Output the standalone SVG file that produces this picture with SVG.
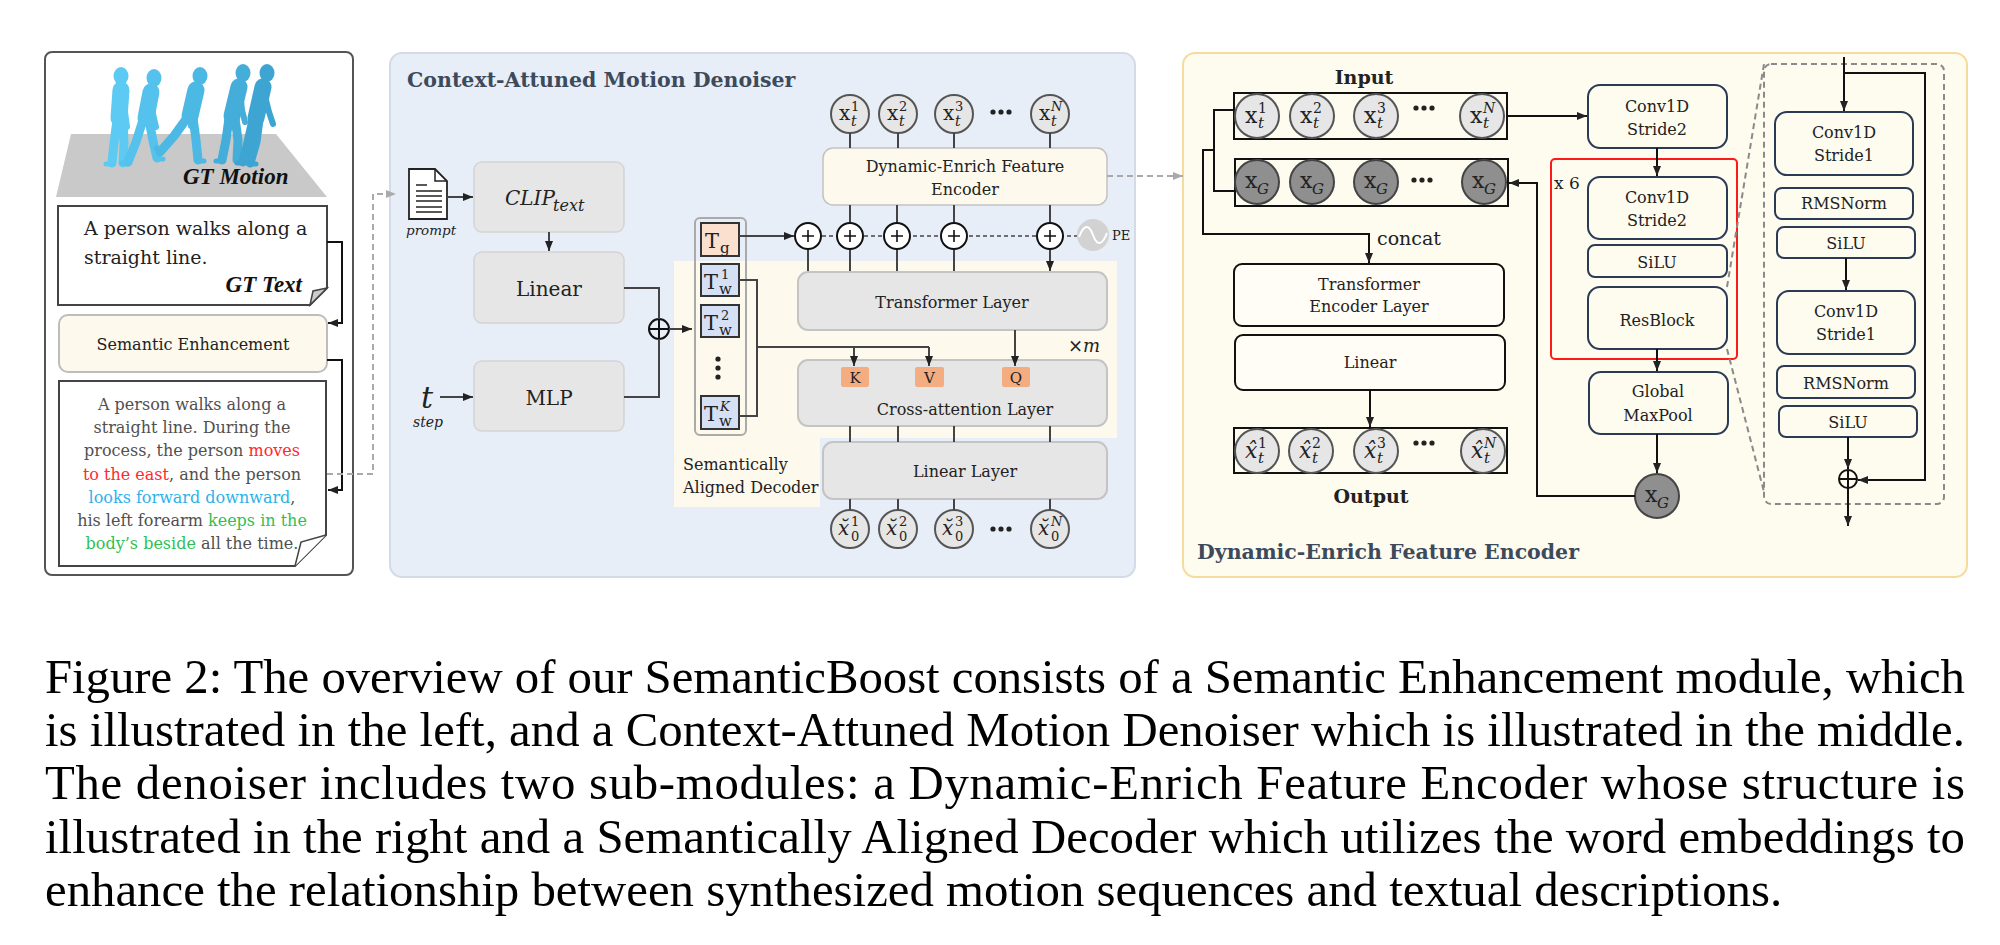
<svg xmlns="http://www.w3.org/2000/svg" width="2000" height="945" viewBox="0 0 2000 945">
<defs>
<style>
.t{font-family:"DejaVu Serif",serif;fill:#222;}
.b{font-weight:bold;}
.i{font-style:italic;}
.gt{font-family:"Liberation Serif",serif;font-weight:bold;font-style:italic;font-size:23px;fill:#111;}
.ttl{font-family:"DejaVu Serif",serif;font-weight:bold;font-size:20.5px;fill:#3d4a5c;}
.cap{font-family:"Liberation Serif",serif;font-size:48.8px;fill:#000;}
.gbox{fill:#e6e6e6;stroke:#d4d4d4;stroke-width:1.5;}
.lbox{fill:#e6e6e6;stroke:#c4c4c4;stroke-width:2;}
.cream{fill:#fdf9ec;stroke:#c2c2c2;stroke-width:1.5;}
.ln{stroke:#444;stroke-width:2;fill:none;}
.lk{stroke:#111;stroke-width:2;fill:none;}
.dsh{stroke:#aaa;stroke-width:2;fill:none;stroke-dasharray:6 4;}
.circ{fill:#e6e6e6;stroke:#555;stroke-width:2;}
.dark{fill:#8f8f8f;stroke:#444;stroke-width:2;}
.nv{fill:#fefbef;stroke:#2b3a55;stroke-width:2;}
.row{fill:none;stroke:#111;stroke-width:2;}
.tok{stroke:#333;stroke-width:2;}
.plus{fill:#fff;stroke:#111;stroke-width:2;}
.fig{fill:none;stroke-linecap:round;stroke-linejoin:round;}
</style>
<marker id="ah" viewBox="0 0 10 8" refX="10" refY="4" markerWidth="10" markerHeight="8" markerUnits="userSpaceOnUse" orient="auto"><path d="M0,0 L10,4 L0,8 z" fill="#222"/></marker>
<marker id="ahg" viewBox="0 0 10 8" refX="10" refY="4" markerWidth="10" markerHeight="8" markerUnits="userSpaceOnUse" orient="auto"><path d="M0,0 L10,4 L0,8 z" fill="#aaa"/></marker>
</defs>
<rect width="2000" height="945" fill="#fff"/>

<!-- LEFT PANEL -->
<g id="left-panel">
<rect x="45" y="52" width="308" height="523" rx="7" fill="#fff" stroke="#555" stroke-width="2"/>
<polygon points="71,134 276,134 327,197 56,197" fill="#c9c9c9"/>
</g>
<g id="gt-motion-figures">
<g class="fig" stroke="#5ccaf2">
<ellipse cx="121" cy="76" rx="7.5" ry="9" fill="#5ccaf2" stroke="none"/>
<path d="M121,90 L119,118" stroke-width="17"/>
<path d="M117,120 L114,143 L112,163 M123,120 L124,143 L123,163" stroke-width="9"/>
<path d="M112,164 H106 M124,164 H128" stroke-width="5"/>
<path d="M122,93 L125,112 L127,127" stroke-width="6"/>
</g>
<g class="fig" stroke="#54c2ec">
<ellipse cx="154" cy="78" rx="7.5" ry="9" fill="#54c2ec" stroke="none"/>
<path d="M151,92 L146,118" stroke-width="17"/>
<path d="M143,120 L136,142 L128,162 M149,120 L153,141 L157,158" stroke-width="9"/>
<path d="M128,163 H122 M157,159 H163" stroke-width="5"/>
<path d="M152,95 L153,114 L156,127" stroke-width="6"/>
</g>
<g class="fig" stroke="#4cb8e4">
<ellipse cx="200" cy="76" rx="7.5" ry="9" fill="#4cb8e4" stroke="none"/>
<path d="M196,90 L190,116" stroke-width="17"/>
<path d="M187,118 L174,136 L160,152 M193,118 L196,140 L198,160" stroke-width="9"/>
<path d="M198,161 H204 M160,152 L156,148" stroke-width="5"/>
<path d="M197,93 L193,112 L191,126" stroke-width="6"/>
</g>
<g class="fig" stroke="#44add9">
<ellipse cx="243" cy="73" rx="7.5" ry="9" fill="#44add9" stroke="none"/>
<path d="M239,87 L232,116" stroke-width="17"/>
<path d="M229,118 L226,140 L222,160 M235,118 L238,140 L237,160" stroke-width="9"/>
<path d="M222,161 H216 M237,161 H243" stroke-width="5"/>
<path d="M240,90 L242,110 L245,122" stroke-width="6"/>
</g>
<g class="fig" stroke="#3ea4d2">
<ellipse cx="267" cy="73" rx="7.5" ry="9" fill="#3ea4d2" stroke="none"/>
<path d="M263,87 L256,118" stroke-width="17"/>
<path d="M253,120 L248,142 L243,162 M259,120 L256,142 L250,163" stroke-width="9"/>
<path d="M243,163 H237 M250,164 H256" stroke-width="5"/>
<path d="M264,92 L269,112 L273,124" stroke-width="6"/>
</g>
<text class="gt" x="183" y="184">GT Motion</text>
</g>

<g id="gt-text">
<path d="M58,206 H327 V288 L310,305 H58 Z" fill="#fff" stroke="#444" stroke-width="2"/>
<path d="M310,305 L313,291 L327,288 Z" fill="#ccc" stroke="#444" stroke-width="1.5"/>
<text class="t" font-size="19" x="84" y="235">A person walks along a</text>
<text class="t" font-size="19" x="84" y="264">straight line.</text>
<text class="gt" x="302" y="292" text-anchor="end">GT Text</text>
</g>

<g id="semantic-enhancement">
<rect x="59" y="315" width="268" height="57" rx="9" fill="#fdf9ec" stroke="#bdbdbd" stroke-width="2"/>
<text class="t" font-size="16" x="193" y="350" text-anchor="middle">Semantic Enhancement</text>
</g>

<g id="enhanced-text">
<path d="M59,381 H326 V535 L295,566 H59 Z" fill="#fff" stroke="#444" stroke-width="2"/>
<path d="M295,566 L301,542 L326,535" fill="#fff" stroke="#444" stroke-width="1.5"/>
<g class="t" font-size="16" fill="#505050" text-anchor="middle">
<text x="192" y="410" fill="#505050">A person walks along a</text>
<text x="192" y="433" fill="#505050">straight line. During the</text>
<text x="192" y="456" fill="#505050">process, the person <tspan fill="#ff2a2a">moves</tspan></text>
<text x="192" y="480" fill="#505050"><tspan fill="#ff2a2a">to the east</tspan>, and the person</text>
<text x="192" y="503" fill="#505050"><tspan fill="#2eb2ea">looks forward downward</tspan>,</text>
<text x="192" y="526" fill="#505050">his left forearm <tspan fill="#2fbf52">keeps in the</tspan></text>
<text x="192" y="549" fill="#505050"><tspan fill="#2fbf52">body’s beside</tspan> all the time.</text>
</g>
</g>

<!-- MIDDLE PANEL -->
<g id="denoiser-panel">
<rect x="390" y="53" width="745" height="524" rx="12" fill="#e7eef8" stroke="#d3dbe6" stroke-width="2"/>
<text class="ttl" x="407" y="87">Context-Attuned Motion Denoiser</text>
<path d="M674,261 H1117 V438 H820 V507 H674 Z" fill="#fdf9ec"/>
</g>

<g id="prompt">
<path d="M409,169 H435 L447,181 V219 H409 Z" fill="#fff" stroke="#222" stroke-width="1.8"/>
<path d="M435,169 V181 H447" fill="none" stroke="#222" stroke-width="1.5"/>
<path d="M416,185 H427 M416,191 H442 M416,196 H442 M416,201 H442 M416,207 H442 M416,212 H442" stroke="#222" stroke-width="1.6"/>
<text class="t i" font-size="13.5" x="406" y="235">prompt</text>
</g>

<g id="clip"><rect class="gbox" x="474" y="162" width="150" height="70" rx="8"/>
<text class="t i" font-size="20" x="505" y="205">CLIP</text><text class="t i" font-size="16" x="553" y="211">text</text></g>
<g id="linear"><rect class="gbox" x="474" y="252" width="150" height="71" rx="8"/>
<text class="t" font-size="20" x="549" y="296" text-anchor="middle">Linear</text></g>
<g id="mlp"><rect class="gbox" x="474" y="361" width="150" height="70" rx="8"/>
<text class="t" font-size="20" x="549" y="405" text-anchor="middle">MLP</text></g>
<g id="timestep">
<text class="t i" font-size="30" x="421" y="408">t</text>
<text class="t i" font-size="14" x="413" y="427">step</text>
</g>
<g id="sum-node">
<circle cx="659" cy="329" r="10" fill="none" stroke="#111" stroke-width="2"/>
<path d="M649,329 H669 M659,319 V339" stroke="#111" stroke-width="2"/>
</g>

<g id="tokens">
<rect x="695" y="218" width="51" height="217" rx="5" fill="none" stroke="#aaa" stroke-width="2"/>
<rect class="tok" x="701" y="223" width="38" height="33" fill="#fbe0d0"/>
<text class="t" font-size="21" x="705" y="248">T</text><text class="t" font-size="15" x="720" y="253">g</text>
<rect class="tok" x="701" y="264" width="38" height="32" fill="#d5e0f5"/>
<text class="t" font-size="21" x="704" y="289">T</text><text class="t" font-size="13" x="721" y="279">1</text><text class="t" font-size="15" x="719" y="294">w</text>
<rect class="tok" x="701" y="305" width="38" height="32" fill="#d5e0f5"/>
<text class="t" font-size="21" x="704" y="330">T</text><text class="t" font-size="13" x="721" y="320">2</text><text class="t" font-size="15" x="719" y="335">w</text>
<circle cx="718" cy="359" r="2.6" fill="#222"/><circle cx="718" cy="368" r="2.6" fill="#222"/><circle cx="718" cy="377" r="2.6" fill="#222"/>
<rect class="tok" x="701" y="396" width="38" height="33" fill="#d5e0f5"/>
<text class="t" font-size="21" x="704" y="421">T</text><text class="t i" font-size="13" x="720" y="411">K</text><text class="t" font-size="15" x="719" y="426">w</text>
</g>
<text class="t" font-size="16" fill="#555" x="683" y="470">Semantically</text>
<text class="t" font-size="16" fill="#555" x="683" y="493">Aligned Decoder</text>

<g id="xt-inputs">
<circle class="circ" cx="850" cy="114" r="19"/><circle class="circ" cx="898" cy="114" r="19"/><circle class="circ" cx="954" cy="114" r="19"/><circle class="circ" cx="1050" cy="114" r="19"/>
<g class="t" font-size="20">
<text x="839" y="120">x</text><text x="887" y="120">x</text><text x="943" y="120">x</text><text x="1039" y="120">x</text>
</g>
<g class="t" font-size="13">
<text x="851" y="111">1</text><text x="899" y="111">2</text><text x="955" y="111">3</text><text x="1051" y="111" font-style="italic">N</text>
</g>
<g class="t i" font-size="14">
<text x="851" y="126">t</text><text x="899" y="126">t</text><text x="955" y="126">t</text><text x="1051" y="126">t</text>
</g>
<circle cx="993" cy="112" r="2.6" fill="#222"/><circle cx="1001" cy="112" r="2.6" fill="#222"/><circle cx="1009" cy="112" r="2.6" fill="#222"/>
</g>

<g id="defe-block"><rect class="cream" x="823" y="148" width="284" height="57" rx="10"/>
<text class="t" font-size="16" x="965" y="172" text-anchor="middle">Dynamic-Enrich Feature</text>
<text class="t" font-size="16" x="965" y="195" text-anchor="middle">Encoder</text></g>

<g id="pe">
<circle cx="1093" cy="235" r="16" fill="#d2d2d2"/>
<path d="M1079,237 C1084,224 1089,224 1093,235 C1097,246 1102,246 1107,233" fill="none" stroke="#fff" stroke-width="2"/>
<text class="t" font-size="13" x="1112" y="240">PE</text>
</g>

<g id="transformer-layer"><rect class="lbox" x="798" y="272" width="309" height="58" rx="10"/>
<text class="t" font-size="16" x="952" y="308" text-anchor="middle">Transformer Layer</text></g>
<text class="t i" font-size="18" x="1068" y="352">×m</text>
<g id="cross-attention"><rect class="lbox" x="798" y="360" width="309" height="66" rx="10"/>
<rect x="841" y="367" width="28" height="20" rx="2" fill="#f4ad80"/>
<rect x="915" y="367" width="29" height="20" rx="2" fill="#f4ad80"/>
<rect x="1002" y="367" width="28" height="20" rx="2" fill="#f4ad80"/>
<text class="t" font-size="15" x="855" y="383" text-anchor="middle">K</text>
<text class="t" font-size="15" x="929.5" y="383" text-anchor="middle">V</text>
<text class="t" font-size="15" x="1016" y="383" text-anchor="middle">Q</text>
<text class="t" font-size="16" x="965" y="415" text-anchor="middle">Cross-attention Layer</text></g>
<g id="linear-layer"><rect class="lbox" x="823" y="442" width="284" height="57" rx="10"/>
<text class="t" font-size="16" x="965" y="477" text-anchor="middle">Linear Layer</text></g>

<g id="x0-outputs">
<circle class="circ" cx="850" cy="529" r="19"/><circle class="circ" cx="898" cy="529" r="19"/><circle class="circ" cx="954" cy="529" r="19"/><circle class="circ" cx="1050" cy="529" r="19"/>
<g class="t i" font-size="20">
<text x="838" y="535">x̆</text><text x="886" y="535">x̆</text><text x="942" y="535">x̆</text><text x="1038" y="535">x̆</text>
</g>
<g class="t" font-size="13">
<text x="851" y="526">1</text><text x="899" y="526">2</text><text x="955" y="526">3</text><text x="1051" y="526" font-style="italic">N</text>
<text x="851" y="541">0</text><text x="899" y="541">0</text><text x="955" y="541">0</text><text x="1051" y="541">0</text>
</g>
<circle cx="993" cy="529" r="2.6" fill="#222"/><circle cx="1001" cy="529" r="2.6" fill="#222"/><circle cx="1009" cy="529" r="2.6" fill="#222"/>
</g>

<!-- RIGHT PANEL -->
<g id="encoder-panel">
<rect x="1183" y="53" width="784" height="524" rx="12" fill="#fefbef" stroke="#f6dc9c" stroke-width="2"/>
<text class="ttl" x="1197" y="559">Dynamic-Enrich Feature Encoder</text>
<text class="t b" font-size="19" x="1364" y="84" text-anchor="middle">Input</text>
<text class="t b" font-size="19" x="1371" y="503" text-anchor="middle">Output</text>
</g>

<g id="input-row">
<rect class="row" x="1234" y="93" width="273" height="46"/>
<circle class="circ" cx="1257" cy="116" r="22"/><circle class="circ" cx="1312" cy="116" r="22"/><circle class="circ" cx="1376" cy="116" r="22"/><circle class="circ" cx="1482" cy="116" r="22"/>
<g class="t" font-size="22"><text x="1245" y="123">x</text><text x="1300" y="123">x</text><text x="1364" y="123">x</text><text x="1470" y="123">x</text></g>
<g class="t" font-size="14"><text x="1258" y="113">1</text><text x="1313" y="113">2</text><text x="1377" y="113">3</text><text x="1483" y="113" font-style="italic">N</text></g>
<g class="t i" font-size="15"><text x="1258" y="128">t</text><text x="1313" y="128">t</text><text x="1377" y="128">t</text><text x="1483" y="128">t</text></g>
<circle cx="1416" cy="108" r="2.6" fill="#222"/><circle cx="1424" cy="108" r="2.6" fill="#222"/><circle cx="1432" cy="108" r="2.6" fill="#222"/>
</g>

<g id="global-row">
<rect class="row" x="1235" y="159" width="273" height="47"/>
<circle class="dark" cx="1257" cy="182" r="22"/><circle class="dark" cx="1312" cy="182" r="22"/><circle class="dark" cx="1376" cy="182" r="22"/><circle class="dark" cx="1484" cy="182" r="22"/>
<g class="t" font-size="22"><text x="1245" y="188">x</text><text x="1300" y="188">x</text><text x="1364" y="188">x</text><text x="1472" y="188">x</text></g>
<g class="t i" font-size="15"><text x="1257" y="194">G</text><text x="1312" y="194">G</text><text x="1376" y="194">G</text><text x="1484" y="194">G</text></g>
<circle cx="1414" cy="180" r="2.6" fill="#222"/><circle cx="1422" cy="180" r="2.6" fill="#222"/><circle cx="1430" cy="180" r="2.6" fill="#222"/>
</g>

<text class="t" font-size="19" x="1377" y="245">concat</text>

<g id="transformer-encoder"><rect x="1234" y="264" width="270" height="62" rx="8" fill="#fffdf6" stroke="#111" stroke-width="2"/>
<text class="t" font-size="16" x="1369" y="290" text-anchor="middle">Transformer</text>
<text class="t" font-size="16" x="1369" y="312" text-anchor="middle">Encoder Layer</text></g>
<g id="enc-linear"><rect x="1235" y="335" width="270" height="55" rx="8" fill="#fffdf6" stroke="#111" stroke-width="2"/>
<text class="t" font-size="16" x="1370" y="368" text-anchor="middle">Linear</text></g>

<g id="output-row">
<rect class="row" x="1234" y="428" width="273" height="45"/>
<circle class="circ" cx="1257" cy="451" r="22"/><circle class="circ" cx="1311" cy="451" r="22"/><circle class="circ" cx="1376" cy="451" r="22"/><circle class="circ" cx="1483" cy="451" r="22"/>
<g class="t i" font-size="22"><text x="1245" y="458">x̂</text><text x="1299" y="458">x̂</text><text x="1364" y="458">x̂</text><text x="1471" y="458">x̂</text></g>
<g class="t" font-size="14"><text x="1258" y="448">1</text><text x="1312" y="448">2</text><text x="1377" y="448">3</text><text x="1484" y="448" font-style="italic">N</text></g>
<g class="t i" font-size="15"><text x="1258" y="463">t</text><text x="1312" y="463">t</text><text x="1377" y="463">t</text><text x="1484" y="463">t</text></g>
<circle cx="1416" cy="443" r="2.6" fill="#222"/><circle cx="1424" cy="443" r="2.6" fill="#222"/><circle cx="1432" cy="443" r="2.6" fill="#222"/>
</g>

<g id="repeat-block">
<rect x="1551" y="159" width="186" height="200" rx="4" fill="none" stroke="#ff1a1a" stroke-width="2"/>
<text class="t" font-size="17" x="1554" y="189">x 6</text>
</g>
<g id="conv-s2-a"><rect class="nv" x="1588" y="85" width="139" height="63" rx="12"/>
<text class="t" font-size="16" x="1657" y="112" text-anchor="middle">Conv1D</text><text class="t" font-size="16" x="1657" y="135" text-anchor="middle">Stride2</text></g>
<g id="conv-s2-b"><rect class="nv" x="1588" y="177" width="139" height="62" rx="12"/>
<text class="t" font-size="16" x="1657" y="203" text-anchor="middle">Conv1D</text><text class="t" font-size="16" x="1657" y="226" text-anchor="middle">Stride2</text></g>
<g id="silu-a"><rect class="nv" x="1588" y="245" width="139" height="32" rx="7"/>
<text class="t" font-size="16" x="1657" y="268" text-anchor="middle">SiLU</text></g>
<g id="resblock"><rect class="nv" x="1588" y="287" width="139" height="62" rx="12"/>
<text class="t" font-size="16" x="1657" y="326" text-anchor="middle">ResBlock</text></g>
<g id="maxpool"><rect class="nv" x="1589" y="372" width="139" height="62" rx="12"/>
<text class="t" font-size="16" x="1658" y="397" text-anchor="middle">Global</text><text class="t" font-size="16" x="1658" y="421" text-anchor="middle">MaxPool</text></g>
<g id="xg-node"><circle class="dark" cx="1657" cy="496" r="22"/>
<text class="t" font-size="22" x="1645" y="502">x</text><text class="t i" font-size="15" x="1657" y="508">G</text></g>

<g id="resblock-detail">
<rect x="1764" y="64" width="180" height="440" rx="7" fill="none" stroke="#8a8a8a" stroke-width="2" stroke-dasharray="6 4"/>
<g><rect class="nv" x="1775" y="112" width="138" height="63" rx="12"/>
<text class="t" font-size="16" x="1844" y="138" text-anchor="middle">Conv1D</text><text class="t" font-size="16" x="1844" y="161" text-anchor="middle">Stride1</text></g>
<g><rect class="nv" x="1775" y="188" width="138" height="31" rx="7"/>
<text class="t" font-size="16" x="1844" y="209" text-anchor="middle">RMSNorm</text></g>
<g><rect class="nv" x="1777" y="227" width="138" height="31" rx="7"/>
<text class="t" font-size="16" x="1846" y="249" text-anchor="middle">SiLU</text></g>
<g><rect class="nv" x="1777" y="291" width="138" height="63" rx="12"/>
<text class="t" font-size="16" x="1846" y="317" text-anchor="middle">Conv1D</text><text class="t" font-size="16" x="1846" y="340" text-anchor="middle">Stride1</text></g>
<g><rect class="nv" x="1777" y="366" width="138" height="32" rx="7"/>
<text class="t" font-size="16" x="1846" y="389" text-anchor="middle">RMSNorm</text></g>
<g><rect class="nv" x="1779" y="406" width="138" height="31" rx="7"/>
<text class="t" font-size="16" x="1848" y="428" text-anchor="middle">SiLU</text></g>
<circle cx="1848" cy="479" r="9" fill="none" stroke="#111" stroke-width="2"/>
<path d="M1839,479 H1857 M1848,470 V488" stroke="#111" stroke-width="2"/>
</g>

<!-- CONNECTORS -->
<g id="connectors">
<path class="lk" d="M327,242 H342 V323 H328" marker-end="url(#ah)"/>
<path class="lk" d="M327,360 H342 V490 H328" marker-end="url(#ah)"/>
<path class="dsh" d="M327,474 H373 V194 H396" marker-end="url(#ahg)"/>
<path class="ln" d="M447,197 H473" marker-end="url(#ah)"/>
<path class="ln" d="M549,232 V251" marker-end="url(#ah)"/>
<path class="ln" d="M440,397 H473" marker-end="url(#ah)"/>
<path class="ln" d="M624,288 H659 V319 M624,397 H659 V339"/>
<path class="ln" d="M669,329 H692" marker-end="url(#ah)"/>
<path class="ln" d="M850,133 V148 M898,133 V148 M954,133 V148 M1050,133 V148"/>
<path class="ln" d="M850,205 V223 M897,205 V223 M954,205 V223 M1050,205 V223"/>
<path d="M808,236 H1077" fill="none" stroke="#444" stroke-width="1.6" stroke-dasharray="4 3"/>
<path class="ln" d="M739,236 H794" marker-end="url(#ah)"/>
<path class="ln" d="M808,249 V271 M850,249 V271 M897,249 V271 M954,249 V271 M1050,249 V271" marker-end="url(#ah)"/>
<path class="ln" d="M739,280 H757 V416 H739 M757,347 H929"/>
<path class="ln" d="M854,347 V366" marker-end="url(#ah)"/>
<path class="ln" d="M929,347 V366" marker-end="url(#ah)"/>
<path class="ln" d="M1015,330 V366" marker-end="url(#ah)"/>
<path class="ln" d="M850,426 V442 M898,426 V442 M954,426 V442 M1050,426 V442"/>
<path class="ln" d="M850,499 V510 M898,499 V510 M954,499 V510 M1050,499 V510"/>
<path class="dsh" d="M1107,176 H1183" marker-end="url(#ahg)"/>
<path class="lk" d="M1234,110 H1214 V191 H1234 M1214,150 H1203 V234 H1369 V263" marker-end="url(#ah)"/>
<path class="lk" d="M1370,390 V427" marker-end="url(#ah)"/>
<path class="lk" d="M1507,116 H1587" marker-end="url(#ah)"/>
<path class="lk" d="M1635,496 H1537 V183 H1509" marker-end="url(#ah)"/>
<path class="lk" d="M1657,148 V176" marker-end="url(#ah)"/>
<path class="lk" d="M1657,349 V371" marker-end="url(#ah)"/>
<path class="lk" d="M1657,434 V473" marker-end="url(#ah)"/>
<path d="M1727,287 L1764,64 M1727,349 L1764,492" fill="none" stroke="#8a8a8a" stroke-width="2" stroke-dasharray="6 4"/>
<path class="lk" d="M1844,57 V111" marker-end="url(#ah)"/>
<path class="lk" d="M1844,73 H1925 V480 H1858" marker-end="url(#ah)"/>
<path class="lk" d="M1846,258 V290" marker-end="url(#ah)"/>
<path class="lk" d="M1848,437 V469" marker-end="url(#ah)"/>
<path class="lk" d="M1848,488 V526" marker-end="url(#ah)"/>
</g>
<g id="plus-nodes">
<circle class="plus" cx="808" cy="236" r="13"/><circle class="plus" cx="850" cy="236" r="13"/><circle class="plus" cx="897" cy="236" r="13"/><circle class="plus" cx="954" cy="236" r="13"/><circle class="plus" cx="1050" cy="236" r="13"/>
<path d="M802,236 H814 M808,230 V242 M844,236 H856 M850,230 V242 M891,236 H903 M897,230 V242 M948,236 H960 M954,230 V242 M1044,236 H1056 M1050,230 V242" stroke="#111" stroke-width="1.6"/>
</g>

<!-- CAPTION -->
<g id="caption">
<text class="cap" x="45" y="693" textLength="1920" lengthAdjust="spacing">Figure 2: The overview of our SemanticBoost consists of a Semantic Enhancement module, which</text>
<text class="cap" x="45" y="746" textLength="1920" lengthAdjust="spacing">is illustrated in the left, and a Context-Attuned Motion Denoiser which is illustrated in the middle.</text>
<text class="cap" x="45" y="799" textLength="1920" lengthAdjust="spacing">The denoiser includes two sub-modules:  a Dynamic-Enrich Feature Encoder whose structure is</text>
<text class="cap" x="45" y="853" textLength="1920" lengthAdjust="spacing">illustrated in the right and a Semantically Aligned Decoder which utilizes the word embeddings to</text>
<text class="cap" x="45" y="906">enhance the relationship between synthesized motion sequences and textual descriptions.</text>
</g>
</svg>
